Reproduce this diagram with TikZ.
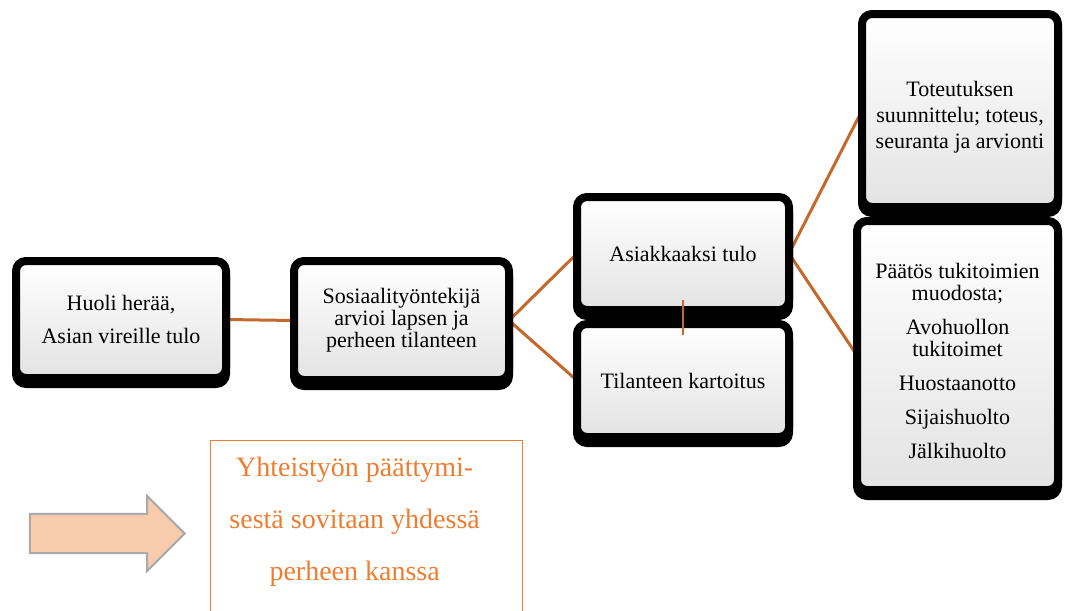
\documentclass[tikz,border=0pt]{standalone}
\usepackage{fontspec}
\setmainfont{LiberationSerif}[Extension=.ttf, UprightFont=*-Regular, BoldFont=*-Bold, ItalicFont=*-Italic]
\usetikzlibrary{shadows,shapes.arrows,backgrounds}
\definecolor{linkorange}{RGB}{197,104,44}
\definecolor{textorange}{RGB}{237,125,49}
\definecolor{arrowfill}{RGB}{248,203,173}
\definecolor{arrowedge}{RGB}{170,170,170}
\begin{document}
\begin{tikzpicture}[x=0.75pt, y=-0.75pt,
  stagebox/.style={draw=black, line width=6pt, rounded corners=7.5pt, top color=white, bottom color=gray!22,
    align=center, inner sep=0pt, outer sep=0pt, font=\fontsize{16.5}{16.5}\selectfont,
    general shadow={draw=black, fill=black, line width=6pt, shadow yshift=-4.5pt}},
  link/.style={draw=linkorange, line width=2.25pt},
  endbox/.style={draw=textorange, line width=1pt, inner sep=0pt, text=textorange, font=\fontsize{21}{39}\selectfont},
  bigarrow/.style={single arrow, draw=arrowedge, fill=arrowfill, line width=1.5pt, minimum height=116pt,
    minimum width=54.75pt, single arrow head extend=13.5pt, single arrow head indent=0pt, inner xsep=0pt, inner ysep=13.9pt}]
  \useasboundingbox (0,0) rectangle (1065,611);
  \node[stagebox, minimum width=157.5pt, minimum height=87.75pt] (concern) at (121,319.5) {Huoli herää,\\[8pt] Asian vireille tulo};
  \node[stagebox, minimum width=161.25pt, minimum height=89.25pt] (assess) at (401.5,320.5) {Sosiaalityöntekijä\\ arvioi lapsen ja\\ perheen tilanteen};
  \node[stagebox, minimum width=159pt, minimum height=84.75pt] (client) at (683,253.5) {Asiakkaaksi tulo};
  \node[stagebox, minimum width=159pt, minimum height=84.75pt] (survey) at (683,380.5) {Tilanteen kartoitus};
  \node[stagebox, minimum width=147pt, minimum height=144.75pt] (plan) at (960,110.5)
    {\rule{0pt}{21pt}Toteutuksen\\[3pt] suunnittelu; toteus,\\[3pt] seuranta ja arvionti};
  \node[stagebox, minimum width=150.75pt, minimum height=201.75pt] (decision) at (957.5,355.5)
    {\rule{0pt}{20pt}Päätös tukitoimien\\ muodosta;\\[9pt] Avohuollon\\ tukitoimet\\[9pt] Huostaanotto\\[9pt] Sijaishuolto\\[9pt] Jälkihuolto};
  \begin{scope}[on background layer]
    \draw[link] (concern.east) -- (assess.west);
    \draw[link] (assess.east) -- (client.west);
    \draw[link] (assess.east) -- (survey.west);
    \draw[link] (client.east) -- (plan.west);
    \draw[link] (client.east) -- (decision.west);
  \end{scope}
  \draw[link, line width=1.5pt] ([yshift=-35pt]client.center) -- ([yshift=34pt]survey.center);
  % closing note
  \node[bigarrow] (pointer) at (97.5,533.5) {};
  \node[endbox, anchor=north west] (closing) at (210,440)
    {\parbox[t][180pt][t]{234pt}{\centering\rightskip=18pt plus 1fil\rule{0pt}{27pt}Yhteistyön päättymi-\\ sestä sovitaan yhdessä\\ perheen kanssa}};
\end{tikzpicture}
\end{document}
